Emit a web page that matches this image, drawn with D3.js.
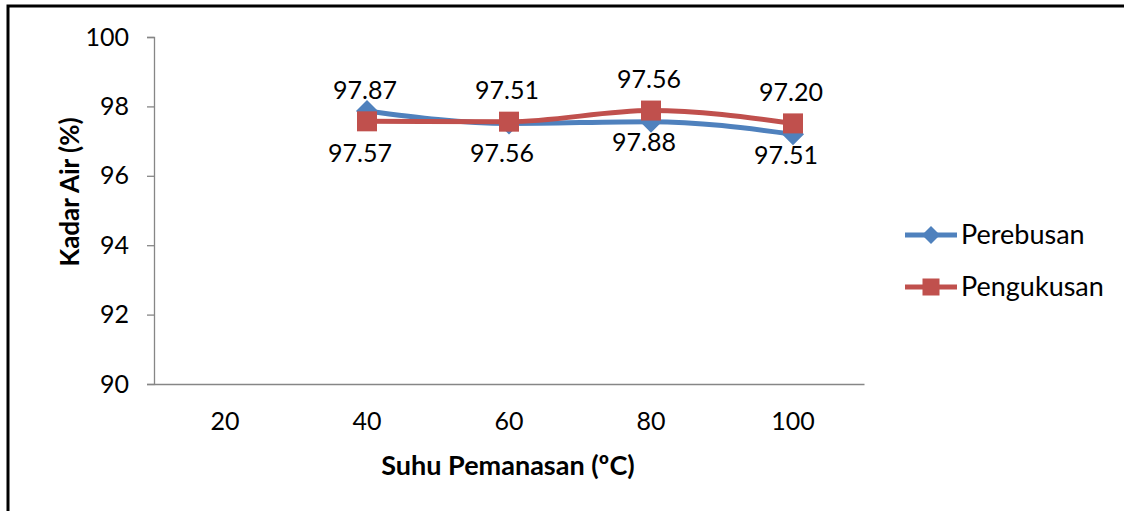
<!DOCTYPE html>
<html>
<head>
<meta charset="utf-8">
<script src="https://cdn.jsdelivr.net/npm/d3@7"></script>
<style>
  html, body { margin: 0; padding: 0; background: #fff; }
  svg { display: block; }
  text { font-family: Lato, "Liberation Sans", sans-serif; fill: #000; }
</style>
</head>
<body>
<svg id="chart" width="1124" height="511"></svg>
<script>
const categories = ["20", "40", "60", "80", "100"];
const perebusan = [null, 97.87, 97.51, 97.56, 97.20];
const pengukusan = [null, 97.57, 97.56, 97.88, 97.51];
const perebusanLabels = ["", "97.87", "97.51", "97.56", "97.20"];
const pengukusanLabels = ["", "97.57", "97.56", "97.88", "97.51"];
const yTicks = [90, 92, 94, 96, 98, 100];
const seriesNames = ["Perebusan", "Pengukusan"];
const yTitle = "Kadar Air (%)";
const xTitle = "Suhu Pemanasan (ºC)";

(function () {
const blue = "#4F81BD", red = "#C0504D", axisColor = "#868686";
const svg = d3.select("#chart");

// outer frame
svg.append("rect").attr("x", 8).attr("y", 6).attr("width", 1300).attr("height", 700)
  .attr("fill", "none").attr("stroke", "#000").attr("stroke-width", 3);

const mLeft = 154, mRight = 864, mTop = 37, mBottom = 384;
const x = d3.scaleBand().domain(categories).range([mLeft, mRight]).paddingInner(0).paddingOuter(0);
const y = d3.scaleLinear().domain([90, 100]).range([mBottom, mTop]);
const cx = c => x(c) + x.bandwidth() / 2;

// y axis
const yAxis = svg.append("g").attr("transform", `translate(${mLeft},0)`)
  .call(d3.axisLeft(y).tickValues(yTicks).tickSize(7).tickPadding(18).tickFormat(d3.format("d")));
yAxis.select(".domain").attr("stroke", axisColor).attr("stroke-width", 1.3);
yAxis.selectAll(".tick line").attr("stroke", axisColor).attr("stroke-width", 1.3);
yAxis.selectAll(".tick text").attr("font-size", 25).attr("font-family", "Lato, sans-serif").attr("fill", "#000");

// x axis
const xAxis = svg.append("g").attr("transform", `translate(0,${mBottom})`)
  .call(d3.axisBottom(x).tickSize(0).tickPadding(28));
xAxis.select(".domain").attr("stroke", axisColor).attr("stroke-width", 1.3);
xAxis.selectAll(".tick text").attr("font-size", 25).attr("font-family", "Lato, sans-serif").attr("fill", "#000");

// titles
svg.append("text").attr("transform", "translate(79,192) rotate(-90)")
  .attr("text-anchor", "middle").attr("font-size", 26).attr("font-weight", "bold").text(yTitle);
svg.append("text").attr("x", 508).attr("y", 475)
  .attr("text-anchor", "middle").attr("font-size", 27).attr("font-weight", "bold").text(xTitle);

const line = d3.line().defined(d => d.v != null).x(d => cx(d.c)).y(d => y(d.v))
  .curve(d3.curveMonotoneX);

const blueData = categories.map((c, i) => ({ c, v: perebusan[i] }));
const redData = categories.map((c, i) => ({ c, v: pengukusan[i] }));

function diamond(g, px, py, r) {
  g.append("path").attr("d", `M${px},${py - r}L${px + r},${py}L${px},${py + r}L${px - r},${py}Z`)
    .attr("fill", blue);
}
function square(g, px, py, s) {
  g.append("rect").attr("x", px - s / 2).attr("y", py - s / 2).attr("width", s).attr("height", s)
    .attr("fill", red);
}

const plot = svg.append("g");
plot.append("path").datum(blueData).attr("d", line).attr("fill", "none")
  .attr("stroke", blue).attr("stroke-width", 5).attr("stroke-linejoin", "round");
blueData.filter(d => d.v != null).forEach(d => diamond(plot, cx(d.c), y(d.v), 11));
plot.append("path").datum(redData).attr("d", line).attr("fill", "none")
  .attr("stroke", red).attr("stroke-width", 5).attr("stroke-linejoin", "round");
redData.filter(d => d.v != null).forEach(d => square(plot, cx(d.c), y(d.v), 20));

// data labels
categories.forEach((c, i) => {
  if (pengukusan[i] == null) return;
  const py = y(pengukusan[i]);
  svg.append("text").attr("x", cx(c) - 2).attr("y", py - 31).attr("dy", "0.35em")
    .attr("text-anchor", "middle").attr("font-size", 25).text(perebusanLabels[i]);
  svg.append("text").attr("x", cx(c) - 7).attr("y", py + 32).attr("dy", "0.35em")
    .attr("text-anchor", "middle").attr("font-size", 25).text(pengukusanLabels[i]);
});

// legend
const legendY = [235, 287];
const lg = svg.append("g");
[0, 1].forEach(i => {
  const col = i === 0 ? blue : red;
  lg.append("line").attr("x1", 905).attr("x2", 957).attr("y1", legendY[i]).attr("y2", legendY[i])
    .attr("stroke", col).attr("stroke-width", 5);
  if (i === 0) diamond(lg, 931, legendY[i], 9); else square(lg, 931, legendY[i], 17);
  lg.append("text").attr("x", 961).attr("y", legendY[i]).attr("dy", "0.35em")
    .attr("font-size", 27).text(seriesNames[i]);
});
})();
</script>
</body>
</html>
